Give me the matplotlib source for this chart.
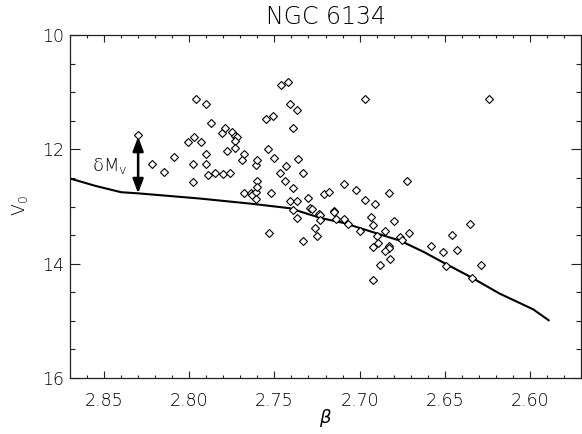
import matplotlib
matplotlib.use("Agg")
import matplotlib.pyplot as plt
from matplotlib.ticker import MultipleLocator
from matplotlib.patches import ArrowStyle

plt.rcParams['font.family'] = ['DejaVu Sans']
plt.rcParams['font.weight'] = 'light'
plt.rcParams['mathtext.fontset'] = 'custom'
plt.rcParams['mathtext.rm'] = 'DejaVu Sans:light'
plt.rcParams['mathtext.it'] = 'DejaVu Sans:italic:light'

# Star data: Stromgren beta index vs dereddened V magnitude
beta = [2.830, 2.822, 2.815, 2.809, 2.801, 2.797, 2.793, 2.796, 2.790, 2.798,
        2.798, 2.790, 2.790, 2.789, 2.785, 2.780, 2.776, 2.787, 2.781, 2.779,
        2.775, 2.773, 2.772, 2.773, 2.773, 2.778, 2.768, 2.769, 2.761, 2.760,
        2.754, 2.750, 2.755, 2.751, 2.746, 2.742, 2.741, 2.737, 2.739, 2.743,
        2.736, 2.747, 2.733, 2.744, 2.739, 2.760, 2.768, 2.764, 2.763, 2.761,
        2.760, 2.761, 2.752, 2.730, 2.741, 2.737, 2.739, 2.737, 2.729, 2.728,
        2.724, 2.723, 2.723, 2.721, 2.718, 2.726, 2.725, 2.753, 2.733, 2.697,
        2.624, 2.709, 2.702, 2.672, 2.683, 2.697, 2.691, 2.715, 2.715, 2.714,
        2.709, 2.707, 2.700, 2.693, 2.692, 2.680, 2.685, 2.690, 2.689, 2.692,
        2.683, 2.683, 2.685, 2.682, 2.688, 2.692, 2.676, 2.675, 2.671, 2.658,
        2.651, 2.646, 2.643, 2.649, 2.635, 2.629, 2.634]
v0 = [11.75, 12.26, 12.39, 12.13, 11.87, 11.78, 11.87, 11.12, 11.21, 12.25,
      12.57, 12.09, 12.25, 12.45, 12.41, 12.43, 12.42, 11.54, 11.71, 11.63,
      11.70, 11.76, 11.79, 11.85, 11.98, 12.03, 12.08, 12.18, 12.27, 12.19,
      12.00, 12.16, 11.47, 11.42, 10.87, 10.83, 11.21, 11.31, 11.62, 12.29,
      12.17, 12.41, 12.41, 12.56, 12.67, 12.56, 12.76, 12.77, 12.80, 12.75,
      12.66, 12.87, 12.77, 12.85, 12.91, 12.91, 13.06, 13.20, 13.03, 13.05,
      13.13, 13.15, 13.24, 12.79, 12.75, 13.37, 13.51, 13.47, 13.60, 11.12,
      11.12, 12.60, 12.72, 12.56, 12.76, 12.89, 12.96, 13.07, 13.09, 13.22,
      13.21, 13.31, 13.42, 13.19, 13.33, 13.26, 13.42, 13.52, 13.63, 13.71,
      13.69, 13.72, 13.78, 13.92, 14.03, 14.28, 13.53, 13.58, 13.47, 13.69,
      13.80, 13.50, 13.76, 14.04, 13.31, 14.03, 14.25]

# ZAMS reference curve
beta_curve = [2.870, 2.855, 2.840, 2.830, 2.794, 2.764, 2.741, 2.723, 2.709,
              2.691, 2.676, 2.662, 2.649, 2.635, 2.618, 2.598, 2.589]
v_curve = [12.51, 12.64, 12.75, 12.77, 12.86, 12.95, 13.03, 13.20, 13.29,
           13.46, 13.60, 13.80, 14.01, 14.23, 14.52, 14.80, 14.99]

# delta M_v arrow and its label
arrow_beta = 2.830
arrow_v = [11.78, 12.77]
label_beta = 2.8465
label_v = 12.30

xticks = [2.85, 2.80, 2.75, 2.70, 2.65, 2.60]
xticklabels = ['2.85', '2.80', '2.75', '2.70', '2.65', '2.60']
yticks = [10, 12, 14, 16]
yticklabels = ['10', '12', '14', '16']

W, H = 582, 434
fig = plt.figure(figsize=(W / 100, H / 100), dpi=100)
ax = fig.add_axes([70 / W, 1 - 378 / H, 511 / W, 343 / H])

ax.plot(beta_curve, v_curve, color='black', lw=1.5, zorder=2)
ax.plot(beta, v0, linestyle='none', marker='D', markersize=3.8,
        markerfacecolor='white', markeredgecolor='black',
        markeredgewidth=0.8, zorder=3)

ax.annotate('', xy=(arrow_beta, arrow_v[1]), xytext=(arrow_beta, arrow_v[0]),
            arrowprops=dict(arrowstyle=ArrowStyle('<|-|>', head_length=0.85,
                                                  head_width=0.32),
                            mutation_scale=10, lw=1.8, color='black',
                            shrinkA=0, shrinkB=0), zorder=4)
ax.text(label_beta, label_v, 'δM$_\\mathregular{v}$',
        ha='center', va='center', fontsize=13)

ax.set_xlim(2.87, 2.57)
ax.set_ylim(16, 10)
ax.set_xticks(xticks)
ax.set_xticklabels(xticklabels)
ax.set_yticks(yticks)
ax.set_yticklabels(yticklabels)
ax.xaxis.set_minor_locator(MultipleLocator(0.01))
ax.yaxis.set_minor_locator(MultipleLocator(0.5))

ax.tick_params(which='both', direction='in', top=True, right=True,
               color='#222222', width=0.8, labelsize=12.5)
ax.tick_params(axis='x', which='major', length=5, pad=10)
ax.tick_params(axis='x', which='minor', length=2.5)
ax.tick_params(axis='y', which='major', length=7.2, pad=4.3)
ax.tick_params(axis='y', which='minor', length=3.6)
for sp in ax.spines.values():
    sp.set_linewidth(0.9)
    sp.set_color('#222222')

fig.text(325.5 / W, 1 - 17.5 / H, 'NGC 6134', ha='center', va='center',
         fontsize=17)
fig.text(20 / W, 1 - 206 / H, 'V$_\\mathregular{0}$', ha='center',
         va='center', rotation=90, fontsize=12.5)
fig.text(325.5 / W, 1 - 418 / H, r'$\beta$', ha='center', va='center',
         fontsize=13)

fig.savefig('out.png', dpi=100)
